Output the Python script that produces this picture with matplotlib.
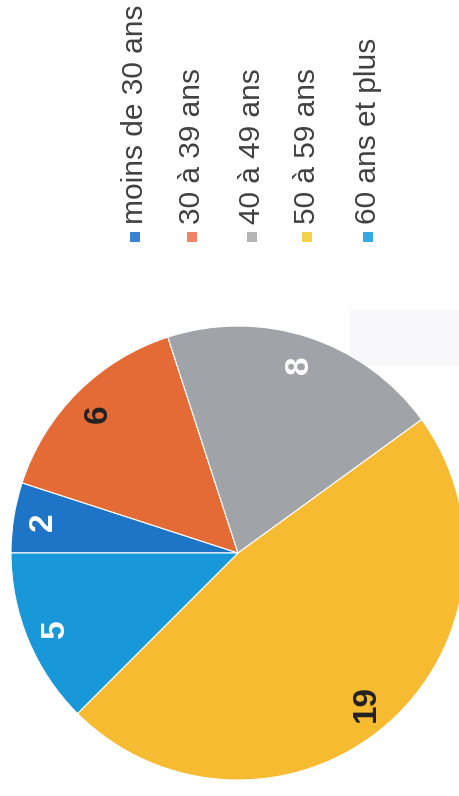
import matplotlib
matplotlib.use("Agg")
import matplotlib.pyplot as plt
from matplotlib.patches import Rectangle

# Age groups and head counts
categories = ["moins de 30 ans", "30 à 39 ans", "40 à 49 ans", "50 à 59 ans", "60 ans et plus"]
values = [2, 6, 8, 19, 5]

slice_colors = ["#1E74C6", "#E46A36", "#A0A3A7", "#F7BB32", "#1898D8"]
legend_colors = ["#3A82D2", "#F08466", "#B4B4B4", "#F2D24A", "#34AAE6"]
label_colors = ["white", "#222222", "white", "#222222", "white"]

W, H = 459, 796
fig = plt.figure(figsize=(W / 100, H / 100), dpi=100)
fig.patch.set_facecolor("white")

# faint band from the page behind the chart
fig.add_artist(Rectangle((350 / W, 1 - 366 / H), (W - 350) / W, 56 / H,
                         transform=fig.transFigure, facecolor="#F8F8FA",
                         edgecolor="none", zorder=0))

# Pie, drawn turned a quarter turn (starts at 9 o'clock, clockwise)
cx, cy, r = 238, 553, 227
ax = fig.add_axes([(cx - r) / W, (H - cy - r) / H, 2 * r / W, 2 * r / H])
wedges, texts = ax.pie(values, colors=slice_colors, startangle=180, counterclock=False,
                       labels=[str(v) for v in values], labeldistance=0.87,
                       wedgeprops=dict(edgecolor="white", linewidth=0.8))
for t, c in zip(texts, label_colors):
    t.set_rotation(90)
    t.set_color(c)
    t.set_fontsize(24)
    t.set_fontfamily("Liberation Sans")
    t.set_fontweight("bold")
    t.set_ha("center")
    t.set_va("center")
ax.set_xlim(-1, 1)
ax.set_ylim(-1, 1)
ax.set_aspect("equal")
for w in wedges:
    w.set_clip_on(False)

# Legend: rotated entries, swatch at the bottom, text reading upward
leg_x = [135, 192, 252, 307, 368]
sw_y, sw = 237, 10
for x, name, col in zip(leg_x, categories, legend_colors):
    fig.add_artist(Rectangle(((x - sw / 2) / W, 1 - (sw_y + sw / 2) / H), sw / W, sw / H,
                             transform=fig.transFigure, facecolor=col, edgecolor="none"))
    fig.text(x / W, 1 - 224 / H, name, rotation=90, ha="center", va="bottom",
             fontsize=21.5, family="Liberation Sans", color="#404040")

fig.savefig("out.png", dpi=100, facecolor="white")
